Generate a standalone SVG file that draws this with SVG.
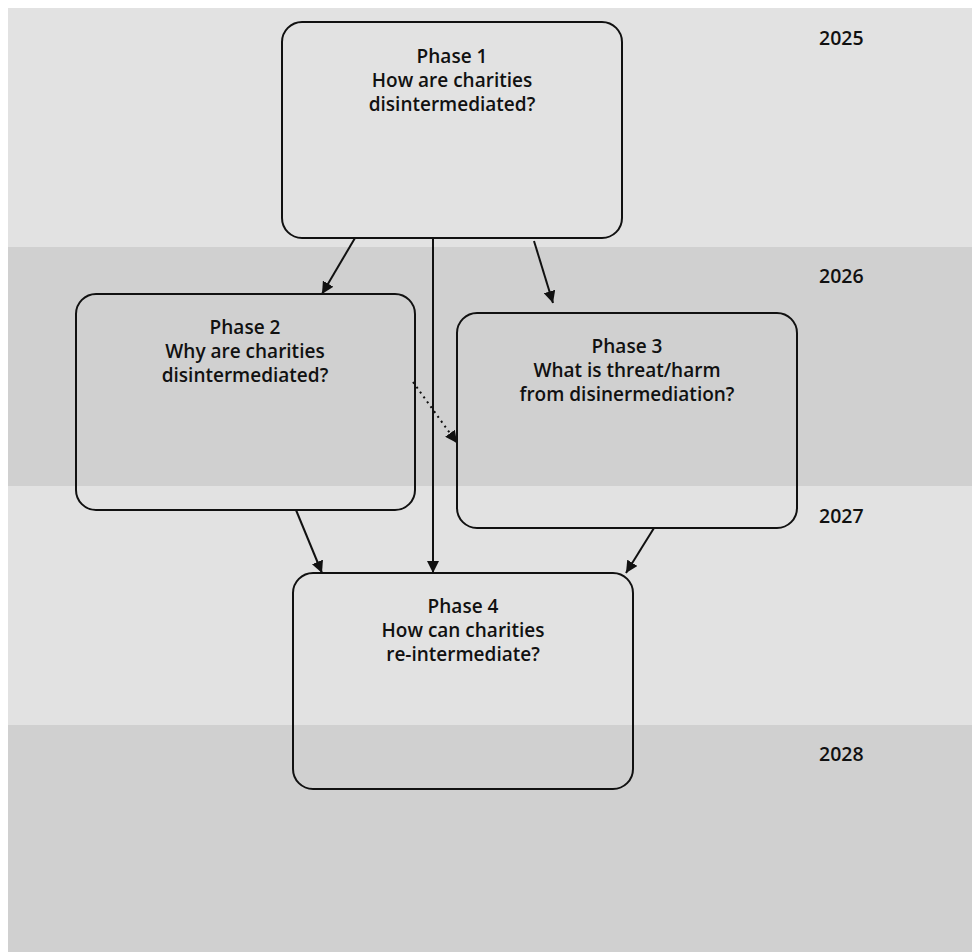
<svg xmlns="http://www.w3.org/2000/svg" width="972" height="952" viewBox="0 0 972 952">
<defs>
<style>
.band1{fill:#e2e2e2}
.band2{fill:#d0d0d0}
.box{fill:none;stroke:#111;stroke-width:2}
.t{font-family:"Open Sans","Noto Sans",sans-serif;font-size:19px;font-weight:600;fill:#111;text-anchor:middle}
.y{font-family:"Open Sans","Noto Sans",sans-serif;font-size:19.5px;font-weight:600;fill:#111}
.c{stroke:#111;stroke-width:2;fill:none;marker-end:url(#ah)}
.d{stroke:#111;stroke-width:2;fill:none;stroke-dasharray:2 4;marker-end:url(#ah)}
</style>
<marker id="ah" viewBox="0 0 10 10" refX="10" refY="5" markerWidth="6" markerHeight="6" orient="auto" markerUnits="strokeWidth">
<path d="M0,0 L10,5 L0,10 z" fill="#111"/>
</marker>
</defs>
<rect width="972" height="952" fill="#fff"/>
<g id="bands">
<rect class="band1" x="8" y="8" width="964" height="239"/>
<rect class="band2" x="8" y="247" width="964" height="239"/>
<rect class="band1" x="8" y="486" width="964" height="239"/>
<rect class="band2" x="8" y="725" width="964" height="227"/>
<text class="y" x="819" y="45">2025</text>
<text class="y" x="819" y="283">2026</text>
<text class="y" x="819" y="523">2027</text>
<text class="y" x="819" y="761">2028</text>
</g>
<g id="connectors">
<line class="c" x1="355" y1="238" x2="322" y2="294"/>
<line class="c" x1="433" y1="238" x2="433" y2="573"/>
<line class="c" x1="534" y1="241" x2="553" y2="303"/>
<line class="d" x1="413" y1="382" x2="457" y2="443"/>
<line class="c" x1="296" y1="510" x2="322" y2="573"/>
<line class="c" x1="654" y1="528" x2="626" y2="573"/>
</g>
<g id="phase1">
<rect class="box" x="282" y="22" width="340" height="216" rx="20"/>
<text class="t" x="452" y="63">Phase 1</text>
<text class="t" x="452" y="87">How are charities</text>
<text class="t" x="452" y="111">disintermediated?</text>
</g>
<g id="phase2">
<rect class="box" x="76" y="294" width="339" height="216" rx="20"/>
<text class="t" x="245" y="334">Phase 2</text>
<text class="t" x="245" y="358">Why are charities</text>
<text class="t" x="245" y="382">disintermediated?</text>
</g>
<g id="phase3">
<rect class="box" x="457" y="313" width="340" height="215" rx="20"/>
<text class="t" x="627" y="353">Phase 3</text>
<text class="t" x="627" y="377">What is threat/harm</text>
<text class="t" x="627" y="401">from disinermediation?</text>
</g>
<g id="phase4">
<rect class="box" x="293" y="573" width="340" height="216" rx="20"/>
<text class="t" x="463" y="613">Phase 4</text>
<text class="t" x="463" y="637">How can charities</text>
<text class="t" x="463" y="661">re-intermediate?</text>
</g>
</svg>
